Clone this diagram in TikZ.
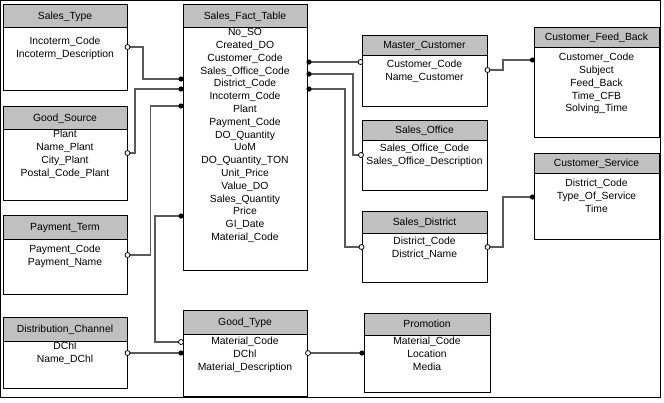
\documentclass[tikz,border=0pt]{standalone}
\usepackage{fontspec}
\setmainfont{Liberation Sans}
\tikzset{
  ebox/.style={draw=black, line width=0.9bp, rectangle, inner sep=0pt, outer sep=0pt, anchor=north west},
  hdr/.style={fill={rgb,255:red,192;green,192;blue,192}},
  txt/.style={inner sep=0pt, anchor=base, font=\fontsize{10.4}{12}\selectfont},
  conn/.style={draw={rgb,255:red,90;green,90;blue,90}, line width=1.3bp},
  odot/.style={circle, draw=black, fill=white, line width=0.8bp, inner sep=0pt, minimum size=5bp},
  fdot/.style={circle, fill=black, inner sep=0pt, minimum size=5.2bp},
}
% #1 name, #2 x1, #3 y1, #4 x2, #5 y2, #6 header bottom, #7 title, #8 first row centre, #9 rows
\newcommand\erent[9]{%
  \fill[hdr] (#2,#3) rectangle (#4,#6);
  \node[ebox, minimum width={(#4-#2)*1bp}, minimum height={(#5-#3)*1bp}] (#1) at (#2,#3) {};
  \draw[line width=0.9bp] (#2,#6) -- (#4,#6);
  \node[txt] (#1-t) at ({(#2+#4)/2},{(#3+#6)/2+3.7}) {#7};
  \foreach \r [count=\i from 0] in {#9} {
    \node[txt] (#1-r\i) at ({(#2+#4)/2},{#8+\i*12.8+3.7}) {\r};
  }%
}
\begin{document}
\begin{tikzpicture}[x=1bp,y=-1bp]
\useasboundingbox (0,0) rectangle (664,402);
\draw[line width=1bp] (0.5,0.5) rectangle (660,397.5);

\erent{st}{3}{4}{127}{90}{27}{Sales\_Type}{41}{Incoterm\_Code,Incoterm\_Description}
\erent{sft}{183}{4}{307}{270}{27}{Sales\_Fact\_Table}{32}{No\_SO,Created\_DO,Customer\_Code,Sales\_Office\_Code,District\_Code,Incoterm\_Code,Plant,Payment\_Code,DO\_Quantity,UoM,DO\_Quantity\_TON,Unit\_Price,Value\_DO,Sales\_Quantity,Price,GI\_Date,Material\_Code}
\erent{gs}{3}{106}{127}{200}{129}{Good\_Source}{134}{Plant,Name\_Plant,City\_Plant,Postal\_Code\_Plant}
\erent{pt}{3}{215}{127}{294}{239}{Payment\_Term}{249}{Payment\_Code,Payment\_Name}
\erent{dc}{3}{317}{127}{388}{341}{Distribution\_Channel}{346}{DChl,Name\_DChl}
\erent{gt}{183}{310}{307}{396}{334}{Good\_Type}{341}{Material\_Code,DChl,Material\_Description}
\erent{mc}{362}{35}{487}{106}{55}{Master\_Customer}{64}{Customer\_Code,Name\_Customer}
\erent{so}{362}{120}{487}{190}{140}{Sales\_Office}{148}{Sales\_Office\_Code,Sales\_Office\_Description}
\erent{sd}{362}{211}{487}{282}{233}{Sales\_District}{241}{District\_Code,District\_Name}
\erent{cfb}{534}{27}{659}{137}{47}{Customer\_Feed\_Back}{57}{Customer\_Code,Subject,Feed\_Back,Time\_CFB,Solving\_Time}
\erent{cs}{534}{153}{659}{239}{173}{Customer\_Service}{183}{District\_Code,Type\_Of\_Service,Time}
\erent{pr}{364}{313}{490}{392}{335}{Promotion}{341}{Material\_Code,Location,Media}

% connectors
\draw[conn] (st.east |- 0,47) -| (143,79) -- (sft.west |- 0,79);
\node[odot] at ([xshift=0.5bp]st.east |- 0,47) {};
\node[fdot] at ([xshift=-2bp]sft.west |- 0,79) {};

\draw[conn] (gs.east |- 0,153) -| (135,89) -- (sft.west |- 0,89);
\node[odot] at ([xshift=0.5bp]gs.east |- 0,153) {};
\node[fdot] at ([xshift=-2bp]sft.west |- 0,89) {};

\draw[conn] (pt.east |- 0,255) -| (150.5,106) -- (sft.west |- 0,106);
\node[odot] at ([xshift=0.5bp]pt.east |- 0,255) {};
\node[fdot] at ([xshift=-2bp]sft.west |- 0,106) {};

\draw[conn] (sft.west |- 0,216) -| (155,342) -- (gt.west |- 0,342);
\node[fdot] at ([xshift=-2bp]sft.west |- 0,216) {};
\node[odot] at ([xshift=-2bp]gt.west |- 0,342) {};

\draw[conn] (dc.east |- 0,353) -- (gt.west |- 0,353);
\node[odot] at ([xshift=0.5bp]dc.east |- 0,353) {};
\node[fdot] at ([xshift=-2bp]gt.west |- 0,353) {};

\draw[conn] (gt.east |- 0,353) -- (pr.west |- 0,353);
\node[odot] at ([xshift=1bp]gt.east |- 0,353) {};
\node[fdot] at ([xshift=-2bp]pr.west |- 0,353) {};

\draw[conn] (sft.east |- 0,62) -- (mc.west |- 0,62);
\node[fdot] at ([xshift=2bp]sft.east |- 0,62) {};
\node[odot] at ([xshift=-1.5bp]mc.west |- 0,62) {};

\draw[conn] (sft.east |- 0,74) -| (353,155) -- (so.west |- 0,155);
\node[fdot] at ([xshift=2bp]sft.east |- 0,74) {};
\node[odot] at ([xshift=-1bp]so.west |- 0,155) {};

\draw[conn] (sft.east |- 0,89) -| (345,247) -- (sd.west |- 0,247);
\node[fdot] at ([xshift=2bp]sft.east |- 0,89) {};
\node[odot] at ([xshift=-0.5bp]sd.west |- 0,247) {};

\draw[conn] (mc.east |- 0,70) -| (503,60) -- (cfb.west |- 0,60);
\node[odot] at ([xshift=0.5bp]mc.east |- 0,70) {};
\node[fdot] at ([xshift=-1.5bp]cfb.west |- 0,60) {};

\draw[conn] (sd.east |- 0,247) -| (503,197) -- (cs.west |- 0,197);
\node[odot] at ([xshift=0.5bp]sd.east |- 0,247) {};
\node[fdot] at ([xshift=-1.5bp]cs.west |- 0,197) {};
\end{tikzpicture}
\end{document}
